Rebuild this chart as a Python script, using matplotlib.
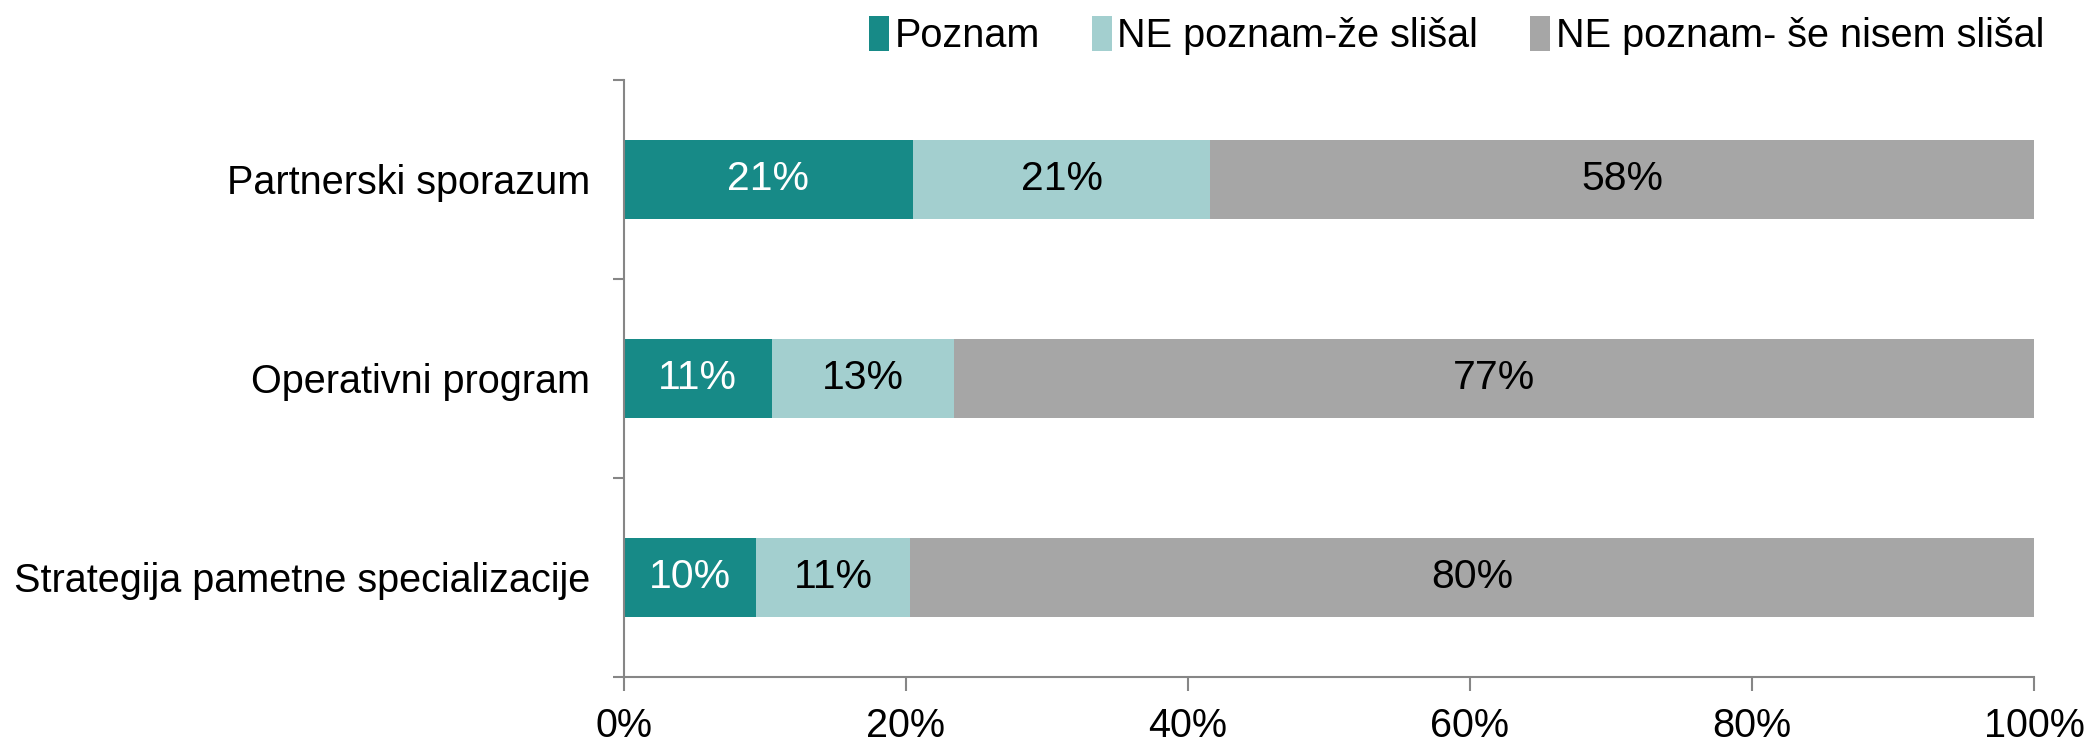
import matplotlib
matplotlib.use("Agg")
import matplotlib.pyplot as plt
import numpy as np

categories = ["Partnerski sporazum", "Operativni program", "Strategija pametne specializacije"]
series_names = ["Poznam", "NE poznam-že slišal", "NE poznam- še nisem slišal"]
poznam = [20.5, 10.5, 9.4]
slisal = [21.1, 12.9, 10.9]
ni_slisal = [58.4, 76.6, 79.7]
labels_poznam = ["21%", "11%", "10%"]
labels_slisal = ["21%", "13%", "11%"]
labels_ni = ["58%", "77%", "80%"]
xticks = [0, 20, 40, 60, 80, 100]
xticklabels = ["0%", "20%", "40%", "60%", "80%", "100%"]

colors = ["#178A87", "#A3CFCF", "#A6A6A6"]
text_colors = ["white", "black", "black"]

plt.rcParams['font.family'] = ['Liberation Sans', 'DejaVu Sans']
fs = 28.5
fs_data = 29.5

fig = plt.figure(figsize=(20.89, 7.44), dpi=100)
ax = fig.add_axes([0.2985, 0.0903, 0.9737 - 0.2985, 0.8925 - 0.0903])

y = np.arange(len(categories))
left = np.zeros(len(categories))
data = [poznam, slisal, ni_slisal]
labs = [labels_poznam, labels_slisal, labels_ni]
handles = []
for vals, lab, c, tc, name in zip(data, labs, colors, text_colors, series_names):
    bars = ax.barh(y, vals, left=left, height=0.4, color=c, label=name)
    handles.append(bars)
    for yi, l0, v, t in zip(y, left, vals, lab):
        ax.text(l0 + v / 2, yi, t, ha='center', va='center', color=tc, fontsize=fs_data)
    left = left + np.array(vals)

ax.set_xlim(0, 100)
ax.set_ylim(2.5, -0.5)
ax.set_xticks(xticks)
ax.set_xticklabels(xticklabels, fontsize=fs)
ax.set_yticks([-0.5, 0.5, 1.5, 2.5])
ax.set_yticklabels([])
ax.set_yticks(y, minor=True)
ax.set_yticklabels(categories, minor=True, fontsize=fs)
ax.tick_params(axis='y', which='minor', length=0, pad=24)
ax.tick_params(axis='y', which='major', length=8, color='#868686', width=1.5)
ax.tick_params(axis='x', length=10, color='#868686', width=1.5, pad=12)
for s in ['top', 'right']:
    ax.spines[s].set_visible(False)
for s in ['left', 'bottom']:
    ax.spines[s].set_color('#868686')
    ax.spines[s].set_linewidth(1.5)

fig.legend(handles=handles, labels=series_names, loc='upper right',
           bbox_to_anchor=(0.986, 1.0), ncol=3, frameon=False, fontsize=fs,
           handlelength=0.5, handleheight=1.0, handletextpad=0.15,
           columnspacing=1.3, borderaxespad=0.0)

fig.savefig("out.png", dpi=100)
